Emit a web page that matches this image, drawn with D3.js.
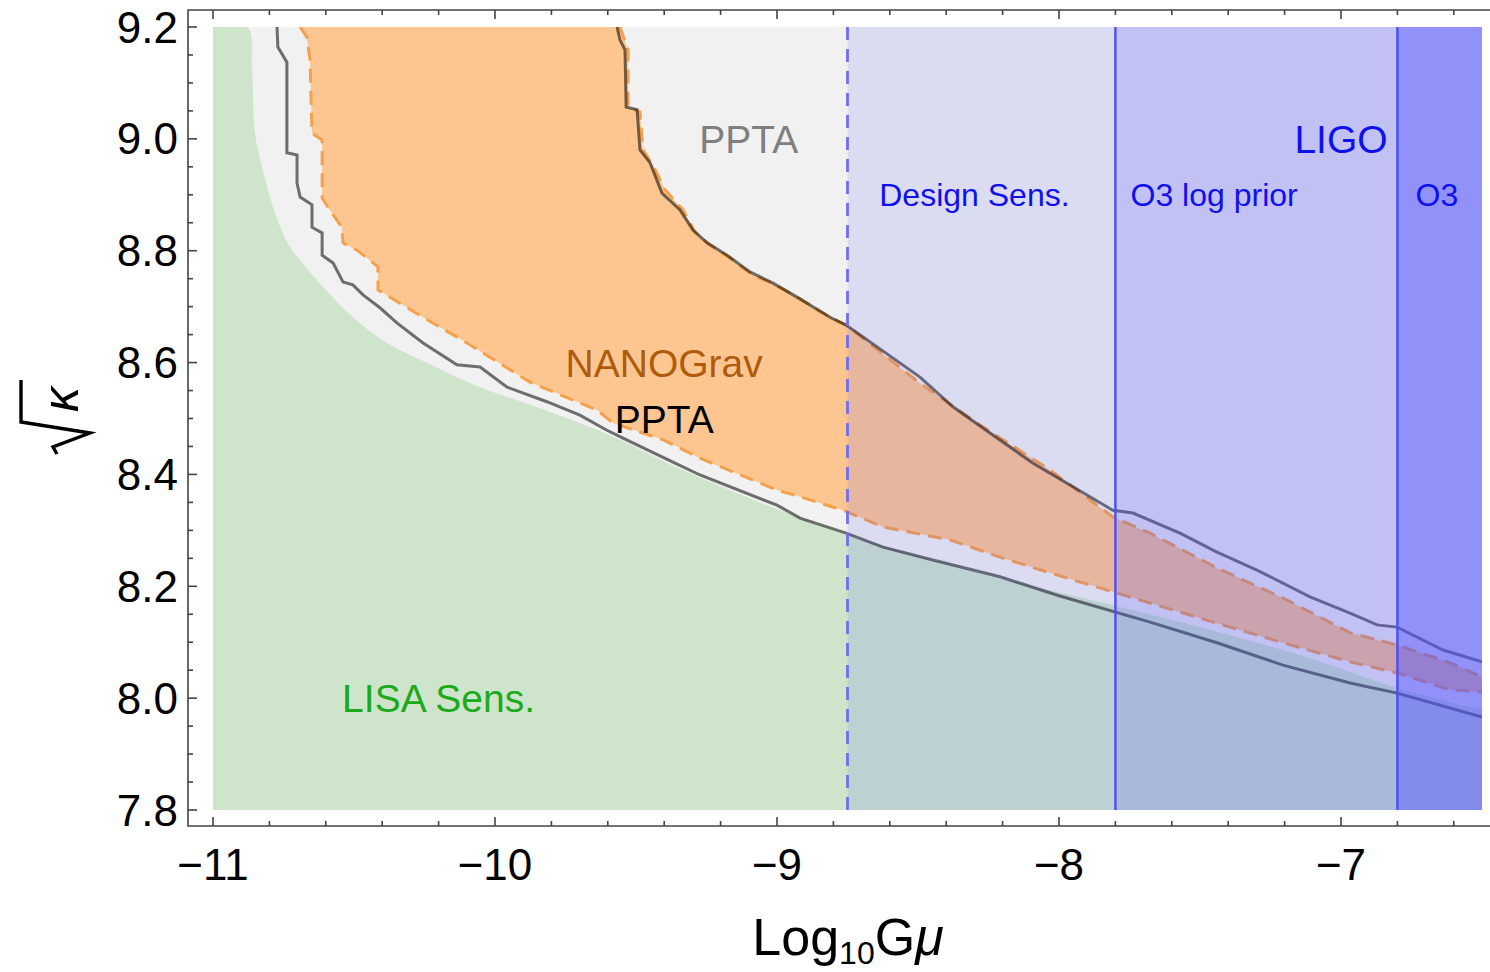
<!DOCTYPE html>
<html>
<head>
<meta charset="utf-8">
<script src="https://cdn.jsdelivr.net/npm/d3@7"></script>
<style>
  html, body { margin: 0; padding: 0; background: #ffffff; }
  svg { display: block; font-family: "Liberation Sans", Arial, Helvetica, sans-serif; }
</style>
</head>
<body>
<svg id="chart" width="1490" height="972"></svg>
<script>
// ---- data: [log10 Gμ, sqrt(kappa)] ----
const lisaSens = [
  [-11.0, 9.2], [-10.879, 9.2], [-10.862, 9.128], [-10.851, 9.010], [-10.826, 8.950],
  [-10.787, 8.878], [-10.734, 8.812], [-10.667, 8.768], [-10.613, 8.737], [-10.504, 8.681],
  [-10.383, 8.635], [-10.230, 8.597], [-10.078, 8.561], [-9.816, 8.514], [-9.582, 8.468],
  [-9.344, 8.410], [-9.0, 8.338], [-8.755, 8.292], [-8.209, 8.215], [-7.677, 8.150],
  [-7.145, 8.077], [-6.801, 8.018], [-6.5, 7.979]
];

const pptaLower = [
  [-10.773, 9.2], [-10.770, 9.164], [-10.738, 9.137], [-10.738, 8.975], [-10.702, 8.971],
  [-10.702, 8.921], [-10.691, 8.896], [-10.649, 8.882], [-10.649, 8.842], [-10.613, 8.832],
  [-10.613, 8.792], [-10.574, 8.778], [-10.539, 8.744], [-10.504, 8.739], [-10.468, 8.721],
  [-10.408, 8.698], [-10.348, 8.671], [-10.255, 8.635], [-10.135, 8.596], [-10.053, 8.592],
  [-9.957, 8.556], [-9.816, 8.530], [-9.699, 8.506], [-9.603, 8.479], [-9.546, 8.465],
  [-9.369, 8.422], [-9.273, 8.399], [-9.0, 8.345], [-8.918, 8.322], [-8.755, 8.295],
  [-8.624, 8.270], [-8.447, 8.247], [-8.209, 8.217], [-8.0, 8.183], [-7.677, 8.136],
  [-7.440, 8.099], [-7.206, 8.059], [-6.968, 8.027], [-6.801, 8.009], [-6.5, 7.966]
];

const pptaUpper = [
  [-9.567, 9.2], [-9.557, 9.177], [-9.539, 9.159], [-9.535, 9.057], [-9.496, 9.052],
  [-9.486, 8.980], [-9.450, 8.957], [-9.408, 8.903], [-9.344, 8.873], [-9.298, 8.837],
  [-9.248, 8.814], [-9.177, 8.792], [-9.096, 8.762], [-9.014, 8.742], [-8.929, 8.717],
  [-8.812, 8.681], [-8.755, 8.667], [-8.493, 8.574], [-8.376, 8.521], [-8.245, 8.474],
  [-8.092, 8.420], [-7.809, 8.336], [-7.738, 8.331], [-7.571, 8.295], [-7.440, 8.261],
  [-7.298, 8.229], [-7.110, 8.181], [-6.968, 8.152], [-6.872, 8.131], [-6.801, 8.127],
  [-6.638, 8.086], [-6.5, 8.065]
];

const nanoLower = [
  [-10.691, 9.2], [-10.667, 9.182], [-10.656, 9.141], [-10.649, 9.010], [-10.613, 8.998],
  [-10.613, 8.894], [-10.578, 8.867], [-10.543, 8.842], [-10.539, 8.814], [-10.489, 8.801],
  [-10.415, 8.771], [-10.415, 8.730], [-10.255, 8.681], [-10.099, 8.635], [-9.876, 8.565],
  [-9.638, 8.515], [-9.582, 8.492], [-9.404, 8.462], [-9.273, 8.429], [-9.0, 8.372],
  [-8.918, 8.360], [-8.766, 8.336], [-8.624, 8.306], [-8.387, 8.283], [-8.209, 8.252],
  [-8.032, 8.224], [-7.677, 8.170], [-7.440, 8.134], [-7.206, 8.099], [-6.968, 8.065],
  [-6.801, 8.045], [-6.613, 8.015], [-6.5, 8.011]
];

const nanoUpper = [
  [-9.557, 9.2], [-9.528, 9.159], [-9.528, 9.057], [-9.486, 9.048], [-9.475, 8.980],
  [-9.440, 8.953], [-9.397, 8.909], [-9.333, 8.873], [-9.291, 8.833], [-9.238, 8.810],
  [-9.167, 8.787], [-9.089, 8.757], [-9.007, 8.739], [-8.929, 8.717], [-8.812, 8.681],
  [-8.755, 8.667], [-8.493, 8.563], [-8.291, 8.492], [-8.032, 8.408], [-7.809, 8.324],
  [-7.677, 8.295], [-7.440, 8.233], [-7.206, 8.179], [-6.968, 8.117], [-6.801, 8.095],
  [-6.613, 8.063], [-6.5, 8.038]
];

// LIGO exclusion edges: design sensitivity, O3 log prior, O3
const ligoEdges = [-8.75, -7.8, -6.8];
const ligoNames = ["Design Sens.", "O3 log prior", "O3"];

const xTickValues = [-11, -10, -9, -8, -7];
const yTickValues = [7.8, 8.0, 8.2, 8.4, 8.6, 8.8, 9.0, 9.2];

// ---- scales ----
const xExtent = [-11, -6.5];
const yExtent = [7.8, 9.2];
const x = d3.scaleLinear().domain(xExtent).range([213, 1482]);
const y = d3.scaleLinear().domain(yExtent).range([810, 27]);

const frame = { left: 188, right: 1496, top: 10, bottom: 826 };

const svg = d3.select("#chart");

svg.append("defs").append("clipPath").attr("id", "data-clip")
  .append("rect")
  .attr("x", x(xExtent[0])).attr("y", y(yExtent[1]))
  .attr("width", x(xExtent[1]) - x(xExtent[0]))
  .attr("height", y(yExtent[0]) - y(yExtent[1]));

const plot = svg.append("g").attr("clip-path", "url(#data-clip)");

const line = d3.line().x(d => x(d[0])).y(d => y(d[1]));

// light grey PPTA background across the scanned range
plot.append("rect")
  .attr("x", x(xExtent[0])).attr("y", y(yExtent[1]))
  .attr("width", x(xExtent[1]) - x(xExtent[0]))
  .attr("height", y(yExtent[0]) - y(yExtent[1]))
  .attr("fill", "#f1f1f1");

// LISA sensitivity region
const lisaArea = d3.area()
  .x(d => x(d[0])).y0(y(yExtent[0])).y1(d => y(d[1]))
  .curve(d3.curveCatmullRom.alpha(0.5));
plot.append("path").datum(lisaSens).attr("d", lisaArea).attr("fill", "#cee5cc");

// NANOGrav region
const nanoPoly = nanoLower.concat(nanoUpper.slice().reverse());
plot.append("path").attr("d", line(nanoPoly) + "Z").attr("fill", "#fdc690");
[nanoLower, nanoUpper].forEach(b => {
  plot.append("path").attr("d", line(b))
    .attr("fill", "none").attr("stroke", "#f6a04c")
    .attr("stroke-width", 3).attr("stroke-dasharray", "14,8");
});

// PPTA contours
[pptaLower, pptaUpper].forEach(b => {
  plot.append("path").attr("d", line(b))
    .attr("fill", "none").attr("stroke", "#000")
    .attr("stroke-opacity", 0.55).attr("stroke-width", 3)
    .attr("stroke-linejoin", "miter");
});

// LIGO shaded bands (stacked)
const bandAlpha = [0.13, 0.18, 0.43];
ligoEdges.forEach((e, i) => {
  plot.append("rect")
    .attr("x", x(e)).attr("y", y(yExtent[1]))
    .attr("width", x(xExtent[1]) - x(e))
    .attr("height", y(yExtent[0]) - y(yExtent[1]))
    .attr("fill", "rgb(80,80,255)").attr("fill-opacity", bandAlpha[i]);
});
ligoEdges.forEach((e, i) => {
  plot.append("line")
    .attr("x1", x(e)).attr("x2", x(e))
    .attr("y1", y(yExtent[0])).attr("y2", y(yExtent[1]))
    .attr("stroke", i === 0 ? "#6e6ef5" : "#4d4df5")
    .attr("stroke-width", i === 0 ? 2.8 : 2.4)
    .attr("stroke-dasharray", i === 0 ? "13,9" : null);
});

// ---- frame & ticks ----
const axisColor = "#444";
const fr = svg.append("g").attr("stroke", axisColor).attr("stroke-width", 1.6).attr("fill", "none");
fr.append("path").attr("d",
  `M${frame.right},${frame.top}H${frame.left}V${frame.bottom}H${frame.right}`);

const xMinor = d3.range(0, 23).map(i => -11 + i * 0.2);
xMinor.forEach(v => {
  const major = Math.abs(v - Math.round(v)) < 1e-6;
  const len = major ? 9 : 5;
  const px = x(v);
  fr.append("line").attr("x1", px).attr("x2", px).attr("y1", frame.bottom).attr("y2", frame.bottom - len);
  fr.append("line").attr("x1", px).attr("x2", px).attr("y1", frame.top).attr("y2", frame.top + len);
});
const yMinor = d3.range(0, 29).map(i => 7.8 + i * 0.05);
yMinor.forEach((v, i) => {
  const major = i % 4 === 0;
  const len = major ? 9 : 5;
  const py = y(v);
  fr.append("line").attr("x1", frame.left).attr("x2", frame.left + len).attr("y1", py).attr("y2", py);
});

// tick labels
svg.append("g").selectAll("text").data(xTickValues).join("text")
  .attr("x", d => x(d)).attr("y", 880)
  .attr("text-anchor", "middle").attr("font-size", 44).attr("fill", "#000")
  .text(d => "\u2212" + Math.abs(d));

svg.append("g").selectAll("text").data(yTickValues).join("text")
  .attr("x", 178).attr("y", d => y(d) + 15.5)
  .attr("text-anchor", "end").attr("font-size", 44).attr("fill", "#000")
  .text(d => d.toFixed(1));

// x axis title: Log10 Gμ
const xt = svg.append("text").attr("x", 848).attr("y", 955)
  .attr("text-anchor", "middle").attr("font-size", 52).attr("fill", "#000");
xt.append("tspan").text("Log");
xt.append("tspan").attr("font-size", 32).attr("dy", 9).text("10");
xt.append("tspan").attr("dy", -9).text("G");
xt.append("tspan").attr("font-style", "italic").text("\u03bc");

// y axis title: sqrt(kappa), rotated
const yt = svg.append("g").attr("transform", "translate(55,420) rotate(-90)");
yt.append("path").attr("d", "M40,-34 L-2,-34 L-13,35 L-27,-2 L-34,2")
  .attr("fill", "none").attr("stroke", "#000").attr("stroke-width", 3.4)
  .attr("stroke-linejoin", "miter");
yt.append("text").attr("x", 8).attr("y", 23)
  .attr("font-size", 50).attr("font-style", "italic").attr("fill", "#000").text("\u03ba");

// ---- region labels ----
const labels = [
  { t: "PPTA", x: -9.1, y: 9.0, c: "#7f7f7f", s: 39 },
  { t: "NANOGrav", x: -9.40, y: 8.6, c: "#b05a0c", s: 39 },
  { t: "PPTA", x: -9.40, y: 8.5, c: "#000000", s: 39 },
  { t: "LISA Sens.", x: -10.2, y: 8.0, c: "#1aaa1a", s: 39 },
  { t: "LIGO", x: -7.0, y: 9.0, c: "#1010ee", s: 39 },
  { t: ligoNames[0], x: -8.3, y: 8.9, c: "#1010ee", s: 32 },
  { t: ligoNames[1], x: -7.45, y: 8.9, c: "#1010ee", s: 32 },
  { t: ligoNames[2], x: -6.66, y: 8.9, c: "#1010ee", s: 32 }
];
svg.append("g").selectAll("text").data(labels).join("text")
  .attr("x", d => x(d.x)).attr("y", d => y(d.y) + d.s * 0.36)
  .attr("text-anchor", "middle").attr("font-size", d => d.s)
  .attr("fill", d => d.c).text(d => d.t);
</script>
</body>
</html>
